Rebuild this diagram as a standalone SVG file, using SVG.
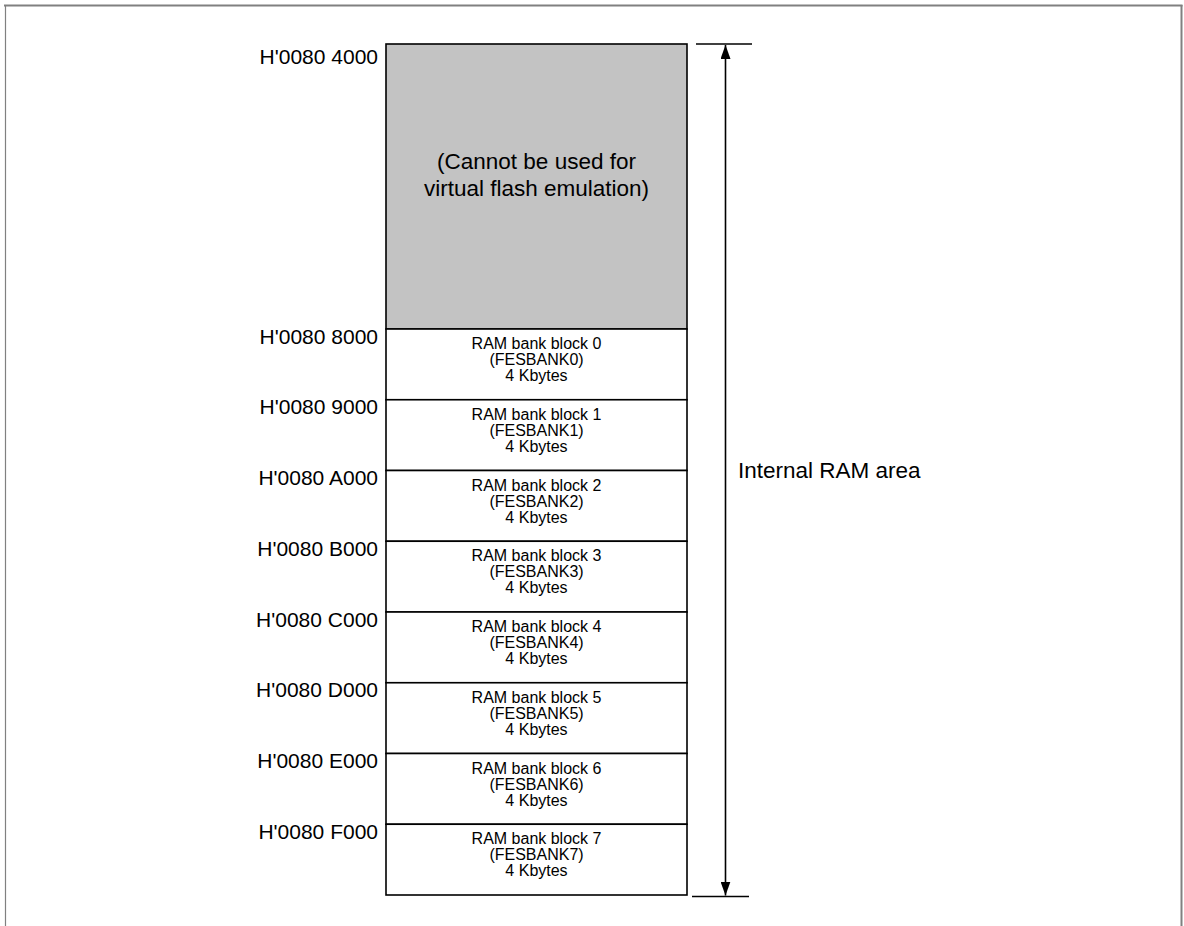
<svg xmlns="http://www.w3.org/2000/svg" width="1184" height="926" viewBox="0 0 1184 926">
<style>
.addr{font-family:"Liberation Sans",Arial,sans-serif;font-size:21px;fill:#000;text-anchor:end}
.big{font-family:"Liberation Sans",Arial,sans-serif;font-size:22.5px;fill:#000;text-anchor:middle}
.lbl{font-family:"Liberation Sans",Arial,sans-serif;font-size:22.5px;fill:#000}
.bank{font-family:"Liberation Sans",Arial,sans-serif;font-size:16px;fill:#000;text-anchor:middle}
.cell{fill:#fff;stroke:#000;stroke-width:1.6}
.frame{fill:none;stroke:#808080}
.dim{stroke:#000;stroke-width:1.6;fill:none}
</style>
<defs>
<marker id="ah" markerWidth="14" markerHeight="10" refX="14" refY="5" orient="auto-start-reverse" markerUnits="userSpaceOnUse" viewBox="0 0 14 10">
<path d="M0,0 L14,5 L0,10 Z" fill="#000"/>
</marker>
</defs>
<g id="frame">
<line class="frame" x1="4" y1="5.5" x2="1182.5" y2="5.5" stroke-width="2"/>
<line class="frame" x1="5.5" y1="5" x2="5.5" y2="926" stroke-width="1.2"/>
<line class="frame" x1="1181.5" y1="5" x2="1181.5" y2="926" stroke-width="2"/>
</g>
<g id="reserved">
<rect x="386" y="44" width="301" height="285" fill="#c3c3c3" stroke="#000" stroke-width="1.6"/>
<text class="big" x="536.5" y="169">(Cannot be used for</text>
<text class="big" x="536.5" y="196">virtual flash emulation)</text>
<text class="addr" x="378" y="64">H'0080 4000</text>
</g>
<g id="bank0">
<rect class="cell" x="386" y="329" width="301" height="70.75"/>
<text class="bank" x="536.5" y="349">RAM bank block 0</text>
<text class="bank" x="536.5" y="365">(FESBANK0)</text>
<text class="bank" x="536.5" y="381">4 Kbytes</text>
<text class="addr" x="378" y="343.5">H'0080 8000</text>
</g>
<g id="bank1">
<rect class="cell" x="386" y="399.75" width="301" height="70.75"/>
<text class="bank" x="536.5" y="419.75">RAM bank block 1</text>
<text class="bank" x="536.5" y="435.75">(FESBANK1)</text>
<text class="bank" x="536.5" y="451.75">4 Kbytes</text>
<text class="addr" x="378" y="414.25">H'0080 9000</text>
</g>
<g id="bank2">
<rect class="cell" x="386" y="470.5" width="301" height="70.75"/>
<text class="bank" x="536.5" y="490.5">RAM bank block 2</text>
<text class="bank" x="536.5" y="506.5">(FESBANK2)</text>
<text class="bank" x="536.5" y="522.5">4 Kbytes</text>
<text class="addr" x="378" y="485">H'0080 A000</text>
</g>
<g id="bank3">
<rect class="cell" x="386" y="541.25" width="301" height="70.75"/>
<text class="bank" x="536.5" y="561.25">RAM bank block 3</text>
<text class="bank" x="536.5" y="577.25">(FESBANK3)</text>
<text class="bank" x="536.5" y="593.25">4 Kbytes</text>
<text class="addr" x="378" y="555.75">H'0080 B000</text>
</g>
<g id="bank4">
<rect class="cell" x="386" y="612" width="301" height="70.75"/>
<text class="bank" x="536.5" y="632">RAM bank block 4</text>
<text class="bank" x="536.5" y="648">(FESBANK4)</text>
<text class="bank" x="536.5" y="664">4 Kbytes</text>
<text class="addr" x="378" y="626.5">H'0080 C000</text>
</g>
<g id="bank5">
<rect class="cell" x="386" y="682.75" width="301" height="70.75"/>
<text class="bank" x="536.5" y="702.75">RAM bank block 5</text>
<text class="bank" x="536.5" y="718.75">(FESBANK5)</text>
<text class="bank" x="536.5" y="734.75">4 Kbytes</text>
<text class="addr" x="378" y="697.25">H'0080 D000</text>
</g>
<g id="bank6">
<rect class="cell" x="386" y="753.5" width="301" height="70.75"/>
<text class="bank" x="536.5" y="773.5">RAM bank block 6</text>
<text class="bank" x="536.5" y="789.5">(FESBANK6)</text>
<text class="bank" x="536.5" y="805.5">4 Kbytes</text>
<text class="addr" x="378" y="768">H'0080 E000</text>
</g>
<g id="bank7">
<rect class="cell" x="386" y="824.25" width="301" height="70.75"/>
<text class="bank" x="536.5" y="844.25">RAM bank block 7</text>
<text class="bank" x="536.5" y="860.25">(FESBANK7)</text>
<text class="bank" x="536.5" y="876.25">4 Kbytes</text>
<text class="addr" x="378" y="838.75">H'0080 F000</text>
</g>
<g id="connectors">
<line class="dim" x1="696" y1="44" x2="752" y2="44"/>
<line class="dim" x1="692" y1="896.5" x2="749" y2="896.5"/>
<line class="dim" x1="725.5" y1="45" x2="725.5" y2="895.5" marker-start="url(#ah)" marker-end="url(#ah)"/>
</g>
<g id="label">
<text class="lbl" x="738" y="478">Internal RAM area</text>
</g>
</svg>
